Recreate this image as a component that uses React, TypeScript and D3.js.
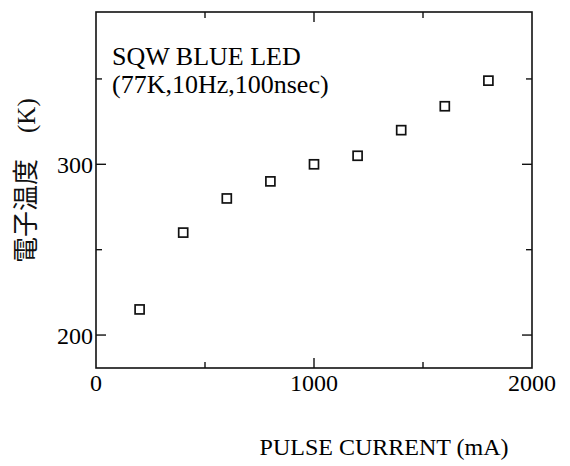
import React, { useEffect, useRef } from 'react';
import * as d3 from 'd3';

// pulse current (mA) and electron temperature (K)
const currents = [200, 400, 600, 800, 1000, 1200, 1400, 1600, 1800];
const temps = [215, 260, 280, 290, 300, 305, 320, 334, 349];

const xTickLabels = [0, 1000, 2000];
const xMinorTicks = [500, 1500];
const yTickLabels = [200, 300];
const yMinorTicks = [250, 350];

const titleLines = ['SQW BLUE LED', '(77K,10Hz,100nsec)'];

const App = () => {
  const chartRef = useRef<SVGSVGElement>(null);

  useEffect(() => {
    const svg = d3.select(chartRef.current);
    svg.selectAll('*').remove();

    const left = 96, right = 532, top = 12, bottom = 368;
    const serif = "'Liberation Serif', 'Times New Roman', serif";

    const x = d3.scaleLinear().domain([0, 2000]).range([left, right]);
    const y = d3.scaleLinear().domain([180.7, 389.2]).range([bottom, top]);

    // frame
    svg.append('rect')
      .attr('x', left).attr('y', top)
      .attr('width', right - left).attr('height', bottom - top)
      .attr('fill', 'none').attr('stroke', '#111').attr('stroke-width', 1.6);

    const ticks = svg.append('g').attr('stroke', '#111').attr('stroke-width', 1.4);

    // x ticks, bottom and top, pointing inward
    const xTicks = [...xTickLabels.slice(1, -1).map(v => ({ v, len: 10 })), ...xMinorTicks.map(v => ({ v, len: 6 }))];
    xTicks.forEach(t => {
      ticks.append('line').attr('x1', x(t.v)).attr('x2', x(t.v)).attr('y1', bottom).attr('y2', bottom - t.len);
      ticks.append('line').attr('x1', x(t.v)).attr('x2', x(t.v)).attr('y1', top).attr('y2', top + t.len);
    });

    // y ticks, left and right
    const yTicks = [...yTickLabels.map(v => ({ v, len: 10 })), ...yMinorTicks.map(v => ({ v, len: 6 }))];
    yTicks.forEach(t => {
      ticks.append('line').attr('x1', left).attr('x2', left + t.len).attr('y1', y(t.v)).attr('y2', y(t.v));
      ticks.append('line').attr('x1', right).attr('x2', right - t.len).attr('y1', y(t.v)).attr('y2', y(t.v));
    });

    svg.selectAll('.xlab')
      .data(xTickLabels)
      .enter().append('text')
      .attr('x', d => x(d))
      .attr('y', bottom + 23)
      .attr('text-anchor', 'middle')
      .style('font-family', serif)
      .attr('font-size', 24)
      .text(d => d);

    svg.selectAll('.ylab')
      .data(yTickLabels)
      .enter().append('text')
      .attr('x', left - 3)
      .attr('y', d => y(d) + 9)
      .attr('text-anchor', 'end')
      .style('font-family', serif)
      .attr('font-size', 24)
      .text(d => d);

    // points
    svg.selectAll('.pt')
      .data(currents)
      .enter().append('rect')
      .attr('x', (d, i) => x(d) - 4.5)
      .attr('y', (d, i) => y(temps[i]) - 4.5)
      .attr('width', 9)
      .attr('height', 9)
      .attr('fill', 'none')
      .attr('stroke', '#111')
      .attr('stroke-width', 1.7);

    // annotation
    svg.selectAll('.title')
      .data(titleLines)
      .enter().append('text')
      .attr('x', 112)
      .attr('y', (d, i) => 65 + i * 28)
      .style('font-family', serif)
      .attr('font-size', 26)
      .text(d => d);

    // axis titles
    svg.append('text')
      .attr('x', 384)
      .attr('y', 455)
      .attr('text-anchor', 'middle')
      .style('font-family', serif)
      .attr('font-size', 24)
      .text('PULSE CURRENT (mA)');

    const yt = svg.append('text')
      .attr('transform', 'rotate(-90)')
      .attr('x', -263)
      .attr('y', 35)
      .attr('fill', '#111');
    yt.append('tspan')
      .style('font-family', "'Noto Sans CJK JP', sans-serif")
      .attr('font-size', 26)
      .text('電子温度');
    yt.append('tspan')
      .attr('dx', 26)
      .style('font-family', serif)
      .attr('font-size', 25)
      .text('(K)');
  }, []);

  return (
    <svg ref={chartRef} width={570} height={466}
      style={{ position: 'absolute', left: 0, top: 0, background: '#fff' }} />
  );
};

export default App;
